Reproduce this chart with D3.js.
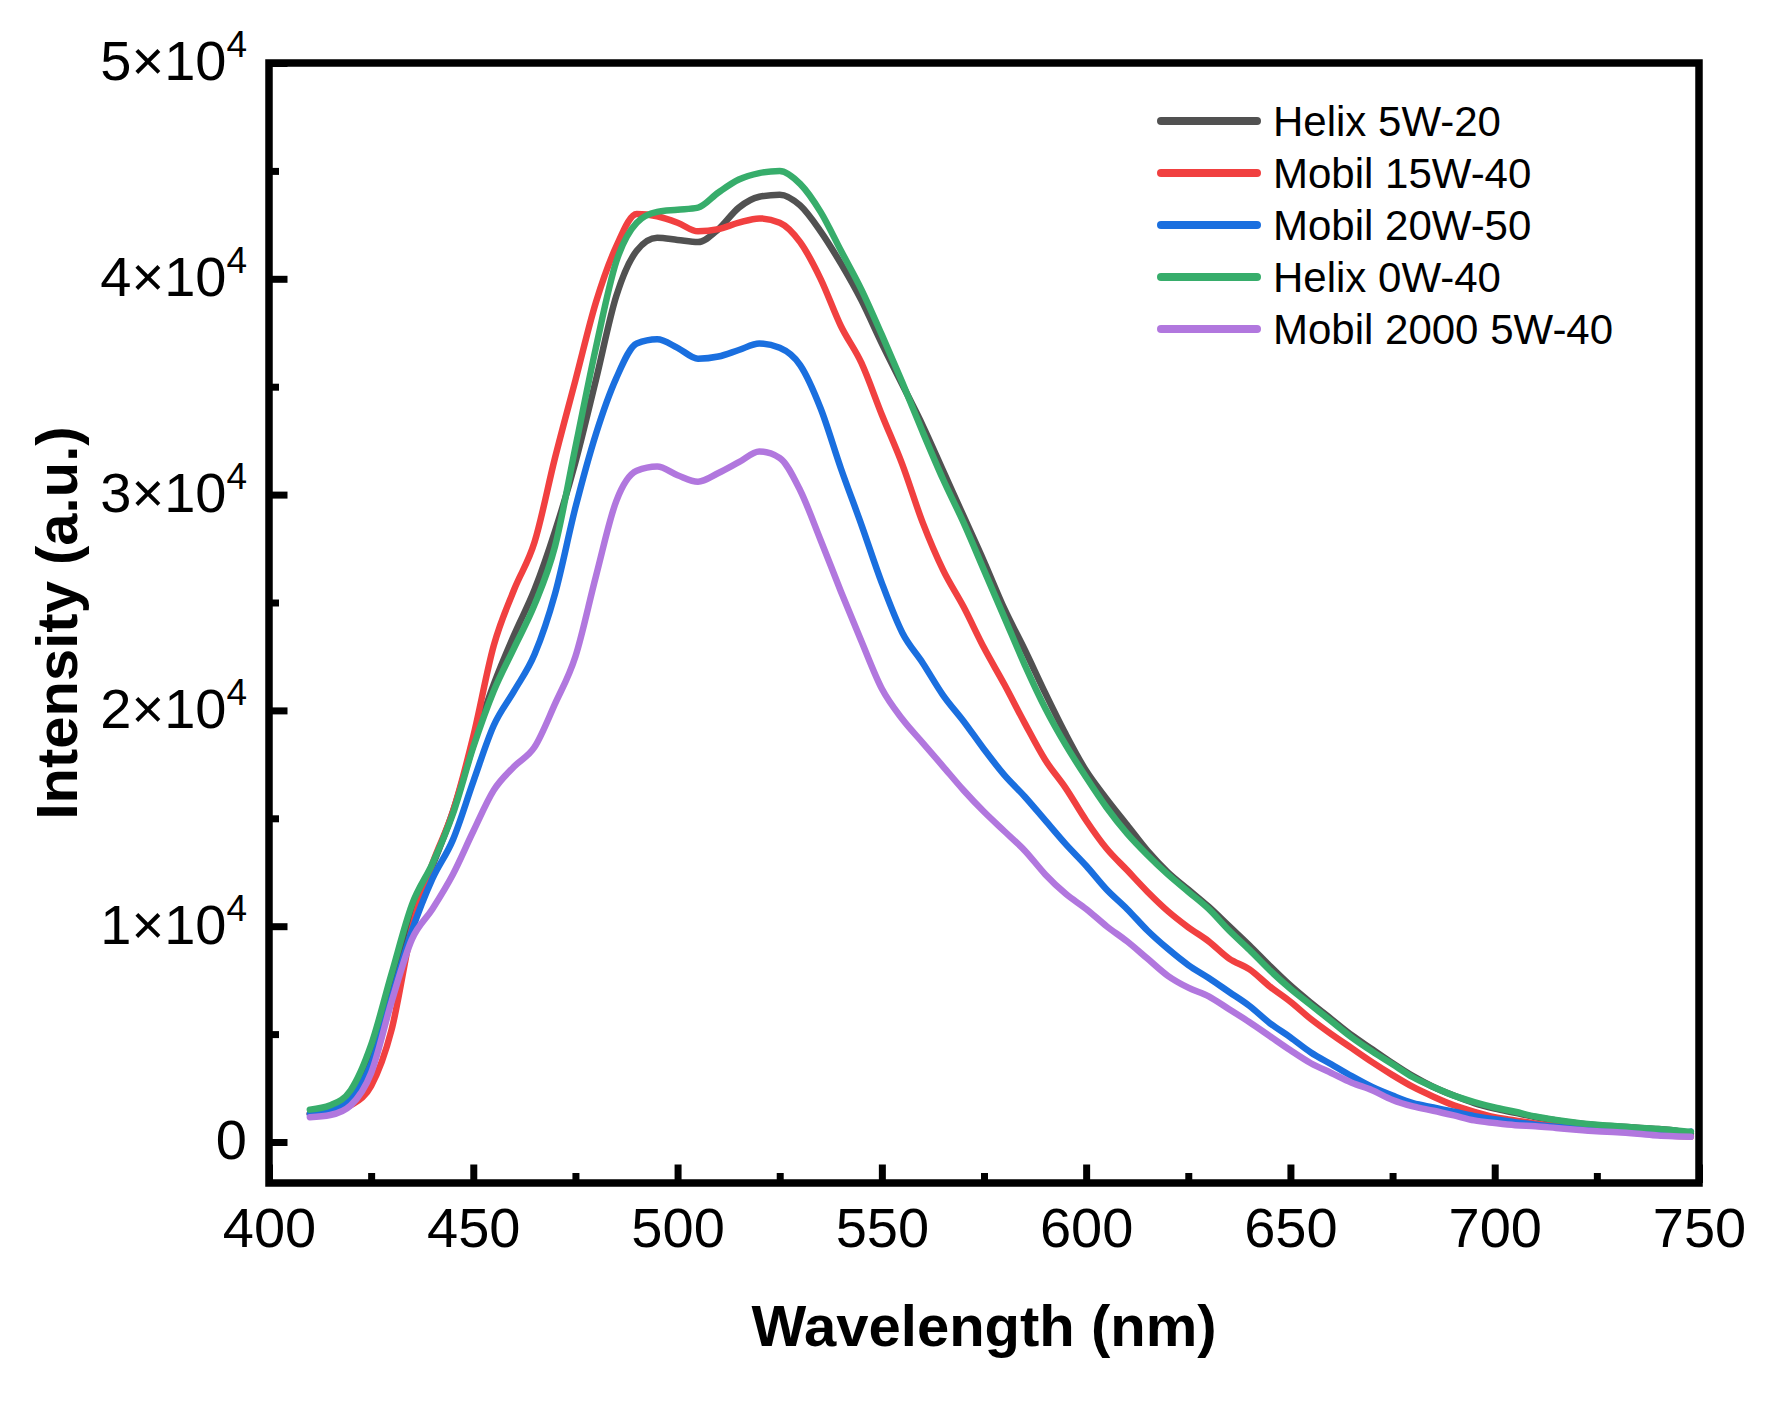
<!DOCTYPE html>
<html>
<head>
<meta charset="utf-8">
<script src="https://cdn.jsdelivr.net/npm/d3@7"></script>
<style>
  body { margin: 0; background: #fff; }
  svg text { font-family: "Liberation Sans", Arial, sans-serif; fill: #000; }
</style>
</head>
<body>
<svg id="chart" width="1772" height="1406"></svg>
<script>

// wavelength (nm) of the read points
var wavelength = [410, 415, 420, 425, 430, 435, 440, 445, 450, 455, 460, 465, 470, 475, 480, 485, 490, 495,
  500, 505, 510, 515, 520, 525, 530, 535, 540, 545, 550, 555, 560, 565, 570, 575, 580, 585, 590, 595,
  600, 605, 610, 615, 620, 625, 630, 635, 640, 645, 650, 655, 660, 665, 670, 675, 680, 685, 690, 695,
  700, 705, 710, 715, 720, 725, 730, 735, 740, 745, 748];

var helix5w20 = [1300, 1500, 2200, 4200, 7400, 10700, 12800, 15300, 18400, 21200, 23500, 25600, 28300, 31500, 35300, 39200, 41300, 41900,
  41800, 41700, 42300, 43300, 43800, 43900, 43400, 42200, 40700, 39000, 37000, 35100, 33200, 31100, 29000, 26900, 24700, 22800, 20800, 18900,
  17200, 15900, 14700, 13500, 12500, 11700, 10900, 10000, 9100, 8150, 7250, 6450, 5700, 4950, 4300, 3650, 3050, 2550, 2150, 1800,
  1550, 1350, 1150, 1000, 870, 780, 720, 660, 600, 500, 400];

var mobil15w40 = [1300, 1400, 1700, 2600, 5200, 9900, 12900, 15300, 18800, 23000, 25600, 27800, 31700, 35300, 38900, 41500, 43000, 42900,
  42600, 42200, 42300, 42600, 42800, 42600, 41700, 40000, 37800, 36100, 33700, 31400, 28700, 26500, 24800, 22900, 21200, 19400, 17700, 16400,
  14900, 13600, 12600, 11600, 10700, 9950, 9300, 8500, 8000, 7200, 6500, 5700, 5000, 4350, 3700, 3100, 2550, 2100, 1700, 1400,
  1150, 1000, 850, 750, 660, 580, 500, 420, 340, 280, 250];

var mobil20w50 = [1300, 1450, 2000, 3600, 6700, 9800, 12200, 14000, 16700, 19300, 20900, 22600, 25400, 29400, 32800, 35400, 37000, 37200,
  36800, 36300, 36400, 36700, 37000, 36800, 36000, 34000, 31200, 28600, 25900, 23600, 22200, 20700, 19500, 18200, 17000, 16000, 14900, 13800,
  12800, 11700, 10800, 9800, 8950, 8200, 7600, 6950, 6300, 5500, 4850, 4150, 3600, 3050, 2550, 2150, 1800, 1600, 1400, 1200,
  1050, 920, 800, 710, 640, 570, 500, 430, 380, 400, 480];

var helix0w40 = [1500, 1700, 2400, 4500, 7800, 11000, 12900, 15200, 18300, 20900, 22900, 24900, 27600, 32200, 36800, 40800, 42600, 43100,
  43200, 43300, 44000, 44600, 44900, 45000, 44400, 43100, 41300, 39500, 37400, 35200, 32900, 30700, 28700, 26500, 24300, 22100, 20100, 18400,
  16900, 15500, 14300, 13300, 12400, 11600, 10800, 9800, 8900, 7950, 7100, 6350, 5600, 4850, 4200, 3600, 3000, 2550, 2150, 1850,
  1600, 1400, 1180, 1020, 890, 800, 730, 660, 600, 520, 470];

var mobil2000 = [1150, 1250, 1700, 3200, 6500, 9400, 10800, 12400, 14400, 16300, 17400, 18300, 20300, 22500, 26200, 29700, 31100, 31300,
  30900, 30600, 31000, 31500, 32000, 31700, 30200, 27900, 25500, 23200, 21000, 19600, 18500, 17400, 16300, 15300, 14400, 13500, 12400, 11500,
  10800, 10000, 9300, 8500, 7700, 7150, 6750, 6150, 5550, 4900, 4250, 3650, 3200, 2750, 2400, 1950, 1650, 1450, 1230, 1000,
  880, 780, 730, 650, 570, 500, 450, 380, 300, 260, 240];

var seriesNames = ["Helix 5W-20", "Mobil 15W-40", "Mobil 20W-50", "Helix 0W-40", "Mobil 2000 5W-40"];
var seriesValues = [helix5w20, mobil15w40, mobil20w50, helix0w40, mobil2000];

var xMajor = [400, 450, 500, 550, 600, 650, 700, 750];
var xMinor = [425, 475, 525, 575, 625, 675, 725];
var yMajor = [0, 10000, 20000, 30000, 40000, 50000];
var yMinor = [5000, 15000, 25000, 35000, 45000];
var yLabels = [["0", ""], ["1×10", "4"], ["2×10", "4"], ["3×10", "4"], ["4×10", "4"], ["5×10", "4"]];

var colors = ["#515151", "#F14040", "#1A6FDF", "#37AD6B", "#B177DE"];

// plot box (window.top is reserved, so no "top" here)
var pLeft = 269, pRight = 1699, pTop = 63, pBottom = 1183;

var x = d3.scaleLinear().domain([400, 750]).range([pLeft, pRight]);
var y = d3.scaleLinear().domain([-1900, 50000]).range([pBottom, pTop]);

var svg = d3.select("#chart");

svg.append("rect")
    .attr("width", 1772).attr("height", 1406).attr("fill", "#fff");

// curves
var line = d3.line()
    .curve(d3.curveMonotoneX)
    .x(d => x(d[0]))
    .y(d => y(d[1]));

var curves = svg.append("g")
    .attr("fill", "none")
    .attr("stroke-width", 6.5)
    .attr("stroke-linejoin", "round")
    .attr("stroke-linecap", "round");

seriesValues.forEach((vals, i) => {
    curves.append("path")
        .datum(wavelength.map((w, j) => [w, vals[j]]))
        .attr("stroke", colors[i])
        .attr("d", line);
});

// axes (ticks pointing inward)
var xAxis = svg.append("g")
    .attr("transform", `translate(0,${pBottom})`)
    .call(d3.axisBottom(x).tickValues(xMajor).tickSize(-18.5).tickPadding(24).tickFormat(d3.format("d")));

svg.append("g")
    .attr("transform", `translate(0,${pBottom})`)
    .call(d3.axisBottom(x).tickValues(xMinor).tickSize(-10).tickFormat(""));

var yAxis = svg.append("g")
    .attr("transform", `translate(${pLeft},0)`)
    .call(d3.axisLeft(y).tickValues(yMajor).tickSize(-18.5).tickPadding(22).tickFormat(""));

svg.append("g")
    .attr("transform", `translate(${pLeft},0)`)
    .call(d3.axisLeft(y).tickValues(yMinor).tickSize(-10).tickFormat(""));

svg.selectAll(".domain").remove();
svg.selectAll(".tick line").attr("stroke", "#000").attr("stroke-width", 7);
svg.selectAll(".tick text").attr("font-size", 56).attr("font-family", "Liberation Sans, Arial, sans-serif");

yAxis.selectAll(".tick text")
    .attr("dy", "0.3em")
    .each(function(d, i) {
        var t = d3.select(this);
        t.append("tspan").text(yLabels[i][0]);
        if (yLabels[i][1]) {
            t.append("tspan").attr("font-size", 37).attr("dy", -23).text(yLabels[i][1]);
        }
    });

// frame
svg.append("rect")
    .attr("x", pLeft).attr("y", pTop)
    .attr("width", pRight - pLeft).attr("height", pBottom - pTop)
    .attr("fill", "none")
    .attr("stroke", "#000")
    .attr("stroke-width", 7.5);

// axis titles
svg.append("text")
    .attr("x", (pLeft + pRight) / 2).attr("y", 1346)
    .attr("text-anchor", "middle")
    .attr("font-size", 58).attr("font-weight", "bold")
    .text("Wavelength (nm)");

svg.append("text")
    .attr("transform", `translate(77,${(pTop + pBottom) / 2}) rotate(-90)`)
    .attr("text-anchor", "middle")
    .attr("font-size", 58).attr("font-weight", "bold")
    .text("Intensity (a.u.)");

// legend
var legend = svg.append("g")
    .selectAll("g")
    .data(seriesNames)
    .join("g")
      .attr("transform", (d, i) => `translate(0,${121 + i * 52})`);

legend.append("line")
    .attr("x1", 1161).attr("x2", 1257)
    .attr("stroke", (d, i) => colors[i])
    .attr("stroke-width", 8)
    .attr("stroke-linecap", "round");

legend.append("text")
    .attr("x", 1273).attr("dy", "0.36em")
    .attr("font-size", 42)
    .text(d => d);

</script>
</body>
</html>
